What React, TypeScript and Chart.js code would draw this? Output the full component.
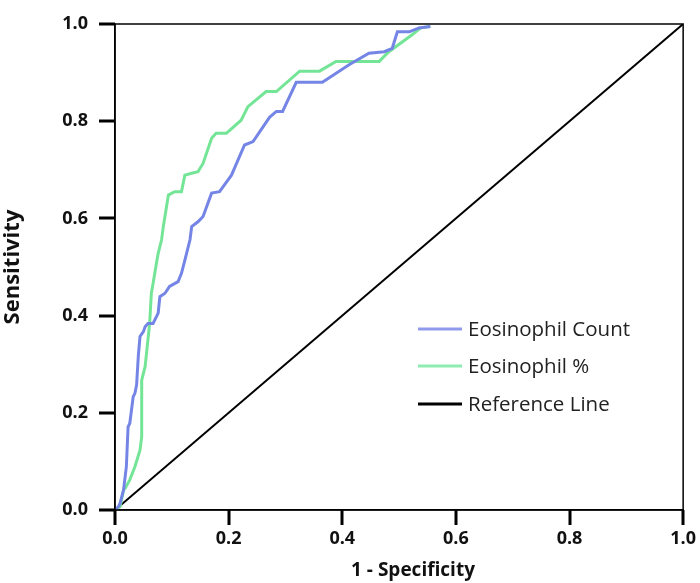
import React, { useEffect, useRef } from "react";
import { Chart, registerables } from "chart.js";

Chart.register(...registerables);

const countFpr = [0, 0.006, 0.009, 0.015, 0.02, 0.023, 0.026, 0.032, 0.035, 0.038, 0.041, 0.044, 0.05, 0.053, 0.058, 0.067, 0.076, 0.079, 0.088, 0.096, 0.111, 0.117, 0.123, 0.132, 0.135, 0.146, 0.155, 0.17, 0.184, 0.205, 0.228, 0.243, 0.272, 0.284, 0.295, 0.319, 0.365, 0.412, 0.447, 0.474, 0.488, 0.497, 0.518, 0.535, 0.555];
const countTpr = [0, 0.007, 0.014, 0.041, 0.089, 0.171, 0.178, 0.233, 0.24, 0.257, 0.316, 0.357, 0.367, 0.377, 0.384, 0.384, 0.405, 0.439, 0.446, 0.46, 0.47, 0.487, 0.514, 0.556, 0.583, 0.593, 0.604, 0.652, 0.655, 0.689, 0.751, 0.758, 0.808, 0.82, 0.82, 0.88, 0.88, 0.916, 0.94, 0.943, 0.95, 0.984, 0.984, 0.992, 0.995];

const pctFpr = [0, 0.009, 0.015, 0.018, 0.026, 0.035, 0.044, 0.047, 0.047, 0.053, 0.061, 0.064, 0.067, 0.073, 0.076, 0.082, 0.085, 0.094, 0.105, 0.117, 0.123, 0.135, 0.146, 0.155, 0.17, 0.178, 0.196, 0.222, 0.234, 0.266, 0.284, 0.325, 0.36, 0.389, 0.465, 0.482, 0.523, 0.538, 0.555];
const pctTpr = [0, 0.007, 0.041, 0.045, 0.062, 0.089, 0.123, 0.151, 0.267, 0.295, 0.384, 0.446, 0.466, 0.508, 0.528, 0.556, 0.583, 0.648, 0.655, 0.655, 0.689, 0.693, 0.696, 0.713, 0.765, 0.775, 0.775, 0.802, 0.83, 0.861, 0.861, 0.903, 0.903, 0.923, 0.923, 0.943, 0.978, 0.992, 0.995];

const refX = [0, 1];
const refY = [0, 1];

const seriesNames = ["Eosinophil Count", "Eosinophil %", "Reference Line"];
const seriesColors = ["#7585e6", "#74e596", "#000000"];
const legendColors = ["#8f9bea", "#8fecb0", "#000000"];
const tickValues = [0, 0.2, 0.4, 0.6, 0.8, 1.0];
const xTitle = "1 - Specificity";
const yTitle = "Sensitivity";

const toPts = (xs: number[], ys: number[]) => xs.map((x, i) => ({ x, y: ys[i] }));

const framePlugin = {
  id: "frameAndLegend",
  afterDraw(chart: any) {
    const { ctx, chartArea, scales } = chart;
    ctx.save();
    ctx.strokeStyle = "#000";
    ctx.lineWidth = 1.5;
    ctx.strokeRect(chartArea.left, chartArea.top, chartArea.right - chartArea.left, chartArea.bottom - chartArea.top);
    // tick marks
    ctx.fillStyle = "#000";
    tickValues.forEach((v) => {
      const px = Math.round(scales.x.getPixelForValue(v));
      ctx.fillRect(px - 1.5, chartArea.bottom, 3, 15);
      const py = Math.round(scales.y.getPixelForValue(v));
      ctx.fillRect(chartArea.left - 16, py - 1.5, 16, 3);
    });
    // x title
    ctx.fillStyle = "#111";
    ctx.font = "bold 19px 'Open Sans'";
    ctx.textAlign = "center";
    ctx.textBaseline = "middle";
    ctx.fillText(xTitle, 413, 571);
    // legend
    const rows = [329, 366, 404];
    ctx.font = "20.5px 'Open Sans'";
    ctx.textBaseline = "middle";
    ctx.textAlign = "left";
    seriesNames.forEach((name, i) => {
      ctx.strokeStyle = legendColors[i];
      ctx.lineWidth = 3;
      ctx.beginPath();
      ctx.moveTo(418, rows[i]);
      ctx.lineTo(462, rows[i]);
      ctx.stroke();
      ctx.fillStyle = "#222";
      ctx.fillText(name, 468, rows[i] + 1);
    });
    ctx.restore();
  },
};

export default function App() {
  const ref = useRef<HTMLCanvasElement>(null);
  useEffect(() => {
    document.body.style.margin = "0";
    const chart = new Chart(ref.current!, {
      type: "scatter",
      data: {
        datasets: [
          { label: seriesNames[0], data: toPts(countFpr, countTpr), showLine: true, borderColor: seriesColors[0], borderWidth: 3, pointRadius: 0, tension: 0 },
          { label: seriesNames[1], data: toPts(pctFpr, pctTpr), showLine: true, borderColor: seriesColors[1], borderWidth: 3, pointRadius: 0, tension: 0 },
          { label: seriesNames[2], data: toPts(refX, refY), showLine: true, borderColor: seriesColors[2], borderWidth: 2, pointRadius: 0 },
        ],
      },
      options: {
        animation: false,
        responsive: false,
        layout: { padding: { top: 24, right: 15, left: 0, bottom: 0 } },
        plugins: { legend: { display: false }, tooltip: { enabled: false } },
        scales: {
          x: {
            type: "linear",
            min: 0,
            max: 1,
            afterBuildTicks: (s: any) => { s.ticks = tickValues.map((v) => ({ value: v })); },
            afterFit: (s: any) => { s.height = 73; },
            grid: { display: true, drawOnChartArea: false, drawTicks: true, tickLength: 14, color: "#000", tickColor: "#000", lineWidth: 2, tickWidth: 2 },
            border: { display: true, color: "#000", width: 1.5 },
            ticks: { color: "#111", font: { family: "Open Sans", weight: "bold", size: 18 }, padding: 4, callback: (v: any) => Number(v).toFixed(1), maxRotation: 0 },
            title: { display: false, text: xTitle },
          },
          y: {
            type: "linear",
            min: 0,
            max: 1,
            afterBuildTicks: (s: any) => { s.ticks = tickValues.map((v) => ({ value: v })); },
            afterFit: (s: any) => { s.width = 115; },
            grid: { display: true, drawOnChartArea: false, drawTicks: true, tickLength: 15, color: "#000", tickColor: "#000", lineWidth: 2, tickWidth: 2 },
            border: { display: true, color: "#000", width: 1.5 },
            ticks: { color: "#111", font: { family: "Open Sans", weight: "bold", size: 18 }, padding: 12, callback: (v: any) => Number(v).toFixed(1) },
            title: { display: true, text: yTitle, color: "#111", font: { family: "Open Sans", weight: "bold", size: 22 }, padding: { top: 0, bottom: 4 } },
          },
        },
      },
      plugins: [framePlugin],
    } as any);
    return () => chart.destroy();
  }, []);
  return (
    <div style={{ position: "absolute", left: 0, top: 0, width: 700, height: 583, background: "#fff" }}>
      <canvas ref={ref} width={700} height={583} style={{ display: "block", width: 700, height: 583 }} />
    </div>
  );
}
